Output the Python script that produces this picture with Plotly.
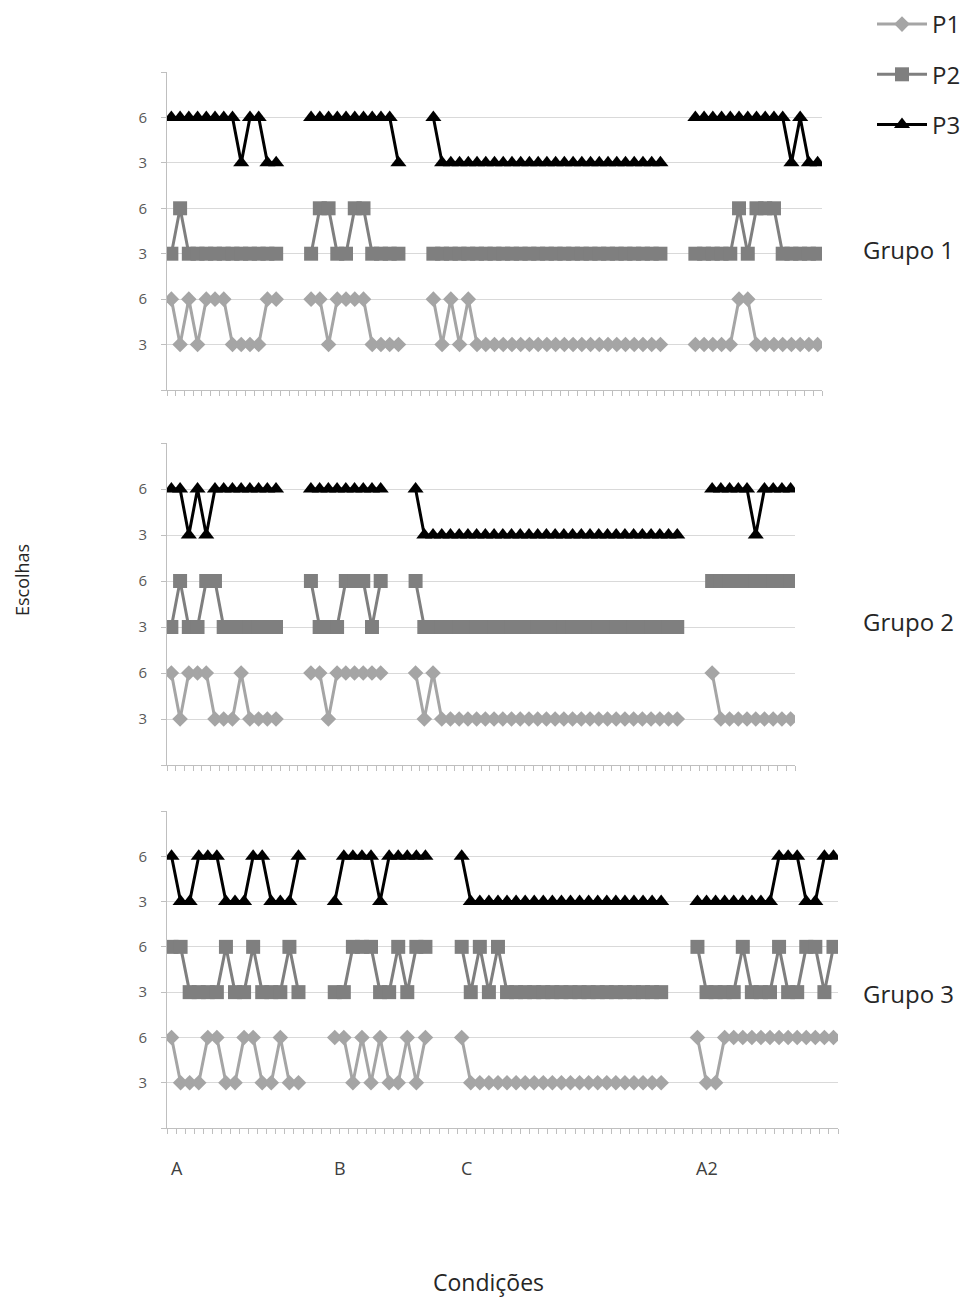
import plotly.graph_objects as go

# ---------------- data ----------------
participants = ["P1", "P2", "P3"]
groups = ["Grupo 1", "Grupo 2", "Grupo 3"]
conditions = ["A", "B", "C", "A2"]

# number of session slots (categories) on each group's x axis
n_slots = [75, 72, 74]
# first slot of each condition (A, B, C, A2) for each group
g1_starts = [0, 16, 30, 60]
g2_starts = [0, 16, 28, 62]
g3_starts = [0, 18, 32, 58]

# choices per session, one list per condition (A, B, C, A2)
g1_p1 = [[6, 3, 6, 3, 6, 6, 6, 3, 3, 3, 3, 6, 6],
         [6, 6, 3, 6, 6, 6, 6, 3, 3, 3, 3],
         [6, 3, 6, 3, 6, 3, 3, 3, 3, 3, 3, 3, 3, 3, 3, 3, 3, 3, 3, 3, 3, 3, 3, 3, 3, 3, 3],
         [3, 3, 3, 3, 3, 6, 6, 3, 3, 3, 3, 3, 3, 3, 3]]
g1_p2 = [[3, 6, 3, 3, 3, 3, 3, 3, 3, 3, 3, 3, 3],
         [3, 6, 6, 3, 3, 6, 6, 3, 3, 3, 3],
         [3, 3, 3, 3, 3, 3, 3, 3, 3, 3, 3, 3, 3, 3, 3, 3, 3, 3, 3, 3, 3, 3, 3, 3, 3, 3, 3],
         [3, 3, 3, 3, 3, 6, 3, 6, 6, 6, 3, 3, 3, 3, 3]]
g1_p3 = [[6, 6, 6, 6, 6, 6, 6, 6, 3, 6, 6, 3, 3],
         [6, 6, 6, 6, 6, 6, 6, 6, 6, 6, 3],
         [6, 3, 3, 3, 3, 3, 3, 3, 3, 3, 3, 3, 3, 3, 3, 3, 3, 3, 3, 3, 3, 3, 3, 3, 3, 3, 3],
         [6, 6, 6, 6, 6, 6, 6, 6, 6, 6, 6, 3, 6, 3, 3]]

g2_p1 = [[6, 3, 6, 6, 6, 3, 3, 3, 6, 3, 3, 3, 3],
         [6, 6, 3, 6, 6, 6, 6, 6, 6],
         [6, 3, 6, 3, 3, 3, 3, 3, 3, 3, 3, 3, 3, 3, 3, 3, 3, 3, 3, 3, 3, 3, 3, 3, 3, 3, 3, 3, 3, 3, 3],
         [6, 3, 3, 3, 3, 3, 3, 3, 3, 3]]
g2_p2 = [[3, 6, 3, 3, 6, 6, 3, 3, 3, 3, 3, 3, 3],
         [6, 3, 3, 3, 6, 6, 6, 3, 6],
         [6, 3, 3, 3, 3, 3, 3, 3, 3, 3, 3, 3, 3, 3, 3, 3, 3, 3, 3, 3, 3, 3, 3, 3, 3, 3, 3, 3, 3, 3, 3],
         [6, 6, 6, 6, 6, 6, 6, 6, 6, 6]]
g2_p3 = [[6, 6, 3, 6, 3, 6, 6, 6, 6, 6, 6, 6, 6],
         [6, 6, 6, 6, 6, 6, 6, 6, 6],
         [6, 3, 3, 3, 3, 3, 3, 3, 3, 3, 3, 3, 3, 3, 3, 3, 3, 3, 3, 3, 3, 3, 3, 3, 3, 3, 3, 3, 3, 3, 3],
         [6, 6, 6, 6, 6, 3, 6, 6, 6, 6]]

g3_p1 = [[6, 3, 3, 3, 6, 6, 3, 3, 6, 6, 3, 3, 6, 3, 3],
         [6, 6, 3, 6, 3, 6, 3, 3, 6, 3, 6],
         [6, 3, 3, 3, 3, 3, 3, 3, 3, 3, 3, 3, 3, 3, 3, 3, 3, 3, 3, 3, 3, 3, 3],
         [6, 3, 3, 6, 6, 6, 6, 6, 6, 6, 6, 6, 6, 6, 6, 6]]
g3_p2 = [[6, 6, 3, 3, 3, 3, 6, 3, 3, 6, 3, 3, 3, 6, 3],
         [3, 3, 6, 6, 6, 3, 3, 6, 3, 6, 6],
         [6, 3, 6, 3, 6, 3, 3, 3, 3, 3, 3, 3, 3, 3, 3, 3, 3, 3, 3, 3, 3, 3, 3],
         [6, 3, 3, 3, 3, 6, 3, 3, 3, 6, 3, 3, 6, 6, 3, 6]]
g3_p3 = [[6, 3, 3, 6, 6, 6, 3, 3, 3, 6, 6, 3, 3, 3, 6],
         [3, 6, 6, 6, 6, 3, 6, 6, 6, 6, 6],
         [6, 3, 3, 3, 3, 3, 3, 3, 3, 3, 3, 3, 3, 3, 3, 3, 3, 3, 3, 3, 3, 3, 3],
         [3, 3, 3, 3, 3, 3, 3, 3, 3, 6, 6, 6, 3, 3, 6, 6]]

y_ticks_band = [3, 6]
cond_label_slots = g3_starts  # condition labels are written under the last panel

# ---------------- build ----------------
W, H = 967, 1298
group_data = [
    (g1_starts, [g1_p1, g1_p2, g1_p3]),
    (g2_starts, [g2_p1, g2_p2, g2_p3]),
    (g3_starts, [g3_p1, g3_p2, g3_p3]),
]
# panel pixel boxes: top, bottom, left, right
panel_px = [(72, 390, 167, 822), (443, 765, 167, 795), (811, 1128, 167, 838)]
band_ranges = [[0, 21], [-6, 15], [-12, 9]]
styles = [
    dict(color="#A5A5A5", symbol="diamond", size=12),
    dict(color="#7F7F7F", symbol="square", size=14),
    dict(color="#000000", symbol="triangle-up", size=14),
]


def full_series(starts, segs, n):
    arr = [None] * n
    for s, seg in zip(starts, segs):
        for k, v in enumerate(seg):
            arr[s + k] = v
    return arr


fig = go.Figure()
layout = {}
axis_col = "#BFBFBF"
tick_font = dict(family="Open Sans", size=15, color="#595959")

for g in range(3):
    starts, series = group_data[g]
    n = n_slots[g]
    top, bot, left, right = panel_px[g]
    xnum = g + 1
    xname = "x" if xnum == 1 else f"x{xnum}"
    ynums = [3 * g + 1, 3 * g + 2, 3 * g + 3]
    ynames = ["y" if k == 1 else f"y{k}" for k in ynums]

    layout["xaxis" if xnum == 1 else f"xaxis{xnum}"] = dict(
        domain=[left / W, right / W], anchor=ynames[0],
        range=[-0.5, n - 0.5], showline=True, linecolor=axis_col, linewidth=1,
        ticks="outside", tickvals=[k - 0.5 for k in range(n + 1)], ticklen=5,
        tickcolor=axis_col, showticklabels=False, showgrid=False, zeroline=False,
        fixedrange=True)

    for b in range(3):
        key = "yaxis" if ynums[b] == 1 else f"yaxis{ynums[b]}"
        if b == 0:
            tv, tt = [0] + y_ticks_band, [""] + [str(v) for v in y_ticks_band]
        elif b == 1:
            tv, tt = y_ticks_band, [str(v) for v in y_ticks_band]
        else:
            tv, tt = y_ticks_band + [9], [str(v) for v in y_ticks_band] + [""]
        ax = dict(range=band_ranges[b], tickvals=tv, ticktext=tt, showgrid=True,
                  gridcolor="#D9D9D9", gridwidth=1, ticks="outside", ticklen=5,
                  tickcolor=axis_col, zeroline=False, tickfont=tick_font,
                  ticklabelstandoff=11, anchor=xname, fixedrange=True)
        if b == 0:
            ax.update(domain=[1 - bot / H, 1 - top / H], showline=True,
                      linecolor=axis_col, linewidth=1)
        else:
            ax.update(overlaying=ynames[0], showline=False)
        layout[key] = ax

    x_idx = list(range(n))
    for b in range(3):
        st = styles[b]
        fig.add_trace(go.Scatter(
            x=x_idx, y=full_series(starts, series[b], n), mode="lines+markers",
            name=participants[b], legendgroup=participants[b], showlegend=(g == 0),
            xaxis=xname, yaxis=ynames[b],
            line=dict(color=st["color"], width=3),
            marker=dict(symbol=st["symbol"], size=st["size"], color=st["color"],
                        line=dict(width=0)),
            connectgaps=False, hoverinfo="skip"))

annotations = []
group_label_y = [250, 622, 993]
for g in range(3):
    annotations.append(dict(text=groups[g], x=908 / W, y=1 - group_label_y[g] / H,
                            xref="paper", yref="paper", showarrow=False,
                            font=dict(family="Open Sans", size=24, color="#262626"),
                            xanchor="center", yanchor="middle"))
for lab, idx in zip(conditions, cond_label_slots):
    annotations.append(dict(text=lab, x=idx, y=1 - 1168 / H, xref="x3", yref="paper",
                            showarrow=False, xanchor="left", yanchor="middle", xshift=-3,
                            font=dict(family="Open Sans", size=18, color="#404040")))
annotations.append(dict(text="Escolhas", x=22 / W, y=1 - 580 / H, xref="paper", yref="paper",
                        showarrow=False, textangle=-90, xanchor="center", yanchor="middle",
                        font=dict(family="Open Sans", size=18, color="#262626")))
annotations.append(dict(text="Condições", x=488 / W, y=1 - 1282 / H, xref="paper", yref="paper",
                        showarrow=False, xanchor="center", yanchor="middle",
                        font=dict(family="Open Sans", size=23, color="#262626")))

fig.update_layout(
    width=W, height=H, margin=dict(l=0, r=0, t=0, b=0),
    paper_bgcolor="white", plot_bgcolor="white",
    showlegend=True,
    legend=dict(x=872 / W, y=1 - 2 / H, xanchor="left", yanchor="top",
                font=dict(family="Open Sans", size=24, color="#262626"),
                tracegroupgap=16, itemwidth=50, bgcolor="rgba(0,0,0,0)"),
    annotations=annotations,
    **layout)

fig.write_html("out.html")
